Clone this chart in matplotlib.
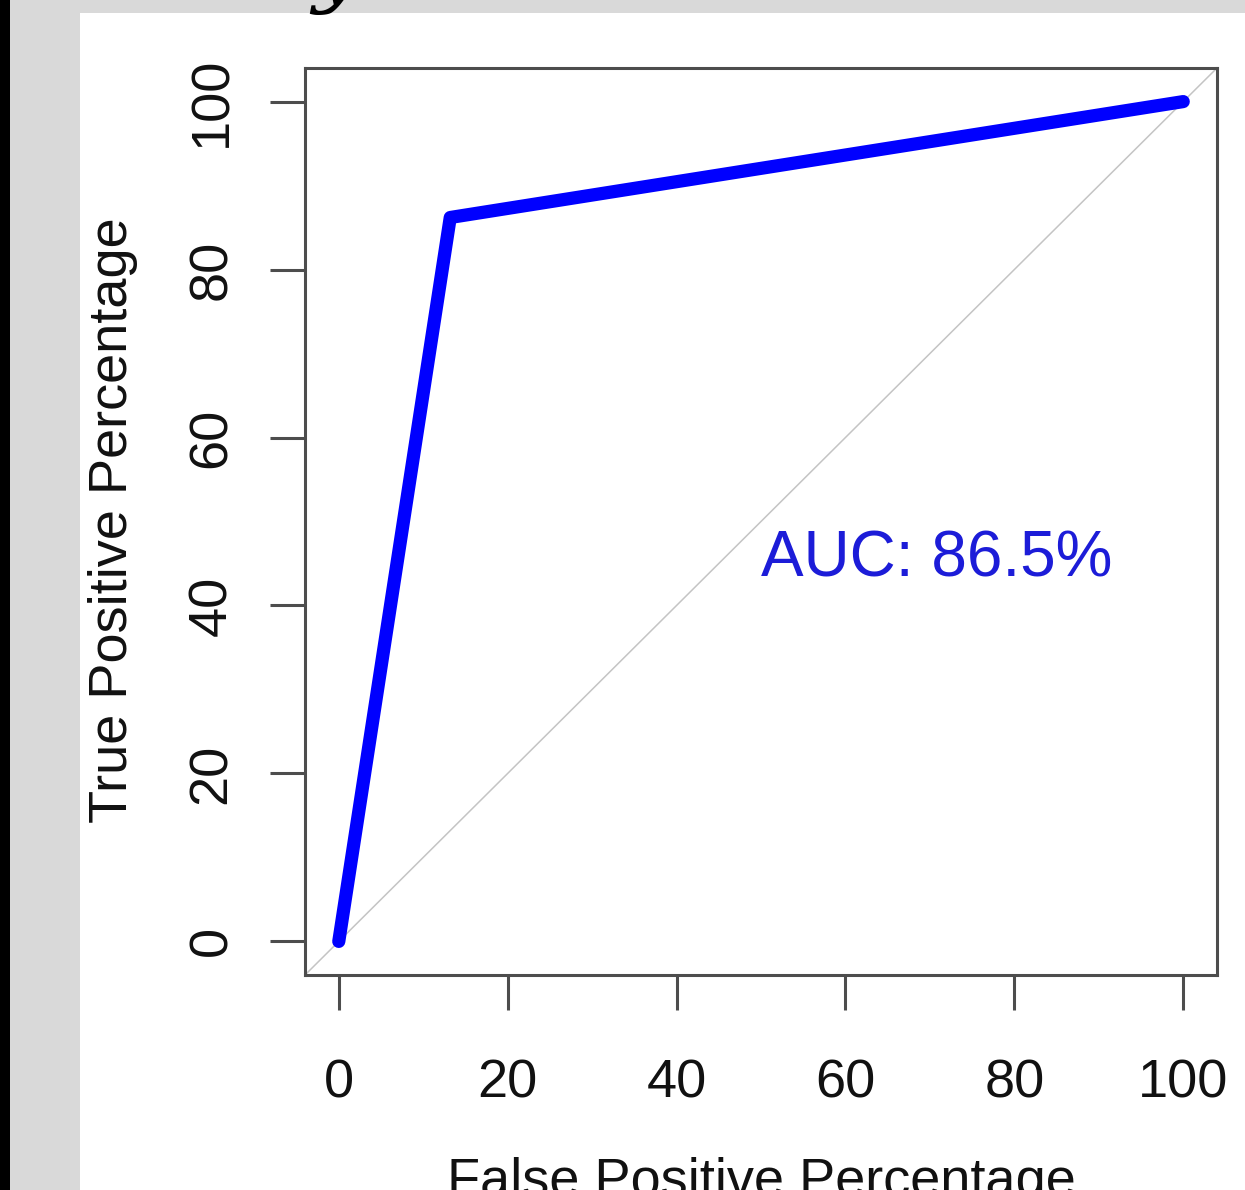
import matplotlib
matplotlib.use("Agg")
import matplotlib.pyplot as plt
import matplotlib.patches as patches

# ROC curve (single threshold), values in percent
fpr = [0, 13.2, 100]
tpr = [0, 86.2, 100]
auc_label = "AUC: 86.5%"
ticks = [0, 20, 40, 60, 80, 100]

plt.rcParams['font.family'] = ['Liberation Sans', 'DejaVu Sans']

W, H = 1245, 1190
fig = plt.figure(figsize=(W / 100, H / 100), dpi=100, facecolor='#d9d9d9')

# black left border and white panel (kept behind the axes)
fig.patches.append(patches.Rectangle((0, 0), 10 / W, 1, transform=fig.transFigure,
                                     facecolor='black', edgecolor='none', zorder=-2))
fig.patches.append(patches.Rectangle((80 / W, 0), 1 - 80 / W, 1 - 13 / H, transform=fig.transFigure,
                                     facecolor='white', edgecolor='none', zorder=-1))

# cropped title glyph above the panel
fig.text(312 / W, 1 + 4 / H, "y", fontsize=62, family='DejaVu Serif', style='italic',
         ha='left', va='baseline', color='black')

ax = fig.add_axes([305 / W, 1 - 975 / H, (1217 - 305) / W, (975 - 68) / H])
ax.set_zorder(1)
ax.set_xlim(-4, 104)
ax.set_ylim(-4, 104)

# chance diagonal
ax.plot([0, 1], [0, 1], transform=ax.transAxes, color='#c4c4c4', lw=1.1, zorder=1)
# ROC curve
ax.plot(fpr, tpr, color='#0000ff', lw=9.5, solid_capstyle='round', solid_joinstyle='round', zorder=2)
ax.text(50, 45.5, auc_label, color='#1c1cd8', fontsize=46, ha='left', va='center')

for s in ax.spines.values():
    s.set_color('#4d4d4d')
    s.set_linewidth(2.2)

ax.set_xticks(ticks)
ax.set_yticks(ticks)
ax.tick_params(axis='both', length=25, width=2.2, color='#4d4d4d', labelsize=39, labelcolor='#111111')
ax.tick_params(axis='x', pad=35)
ax.tick_params(axis='y', pad=24)
for lbl in ax.get_yticklabels():
    lbl.set_rotation(90)
    lbl.set_va('center')

ax.set_xlabel("False Positive Percentage", fontsize=39, color='#111111')
ax.set_ylabel("True Positive Percentage", fontsize=39, color='#111111')
ax.xaxis.set_label_coords(0.5, -0.228)
ax.yaxis.set_label_coords(-0.21, 0.5017)
ax.xaxis.label.set_va('center')
ax.yaxis.label.set_va('center')

fig.savefig("out.png", dpi=100, facecolor=fig.get_facecolor())
